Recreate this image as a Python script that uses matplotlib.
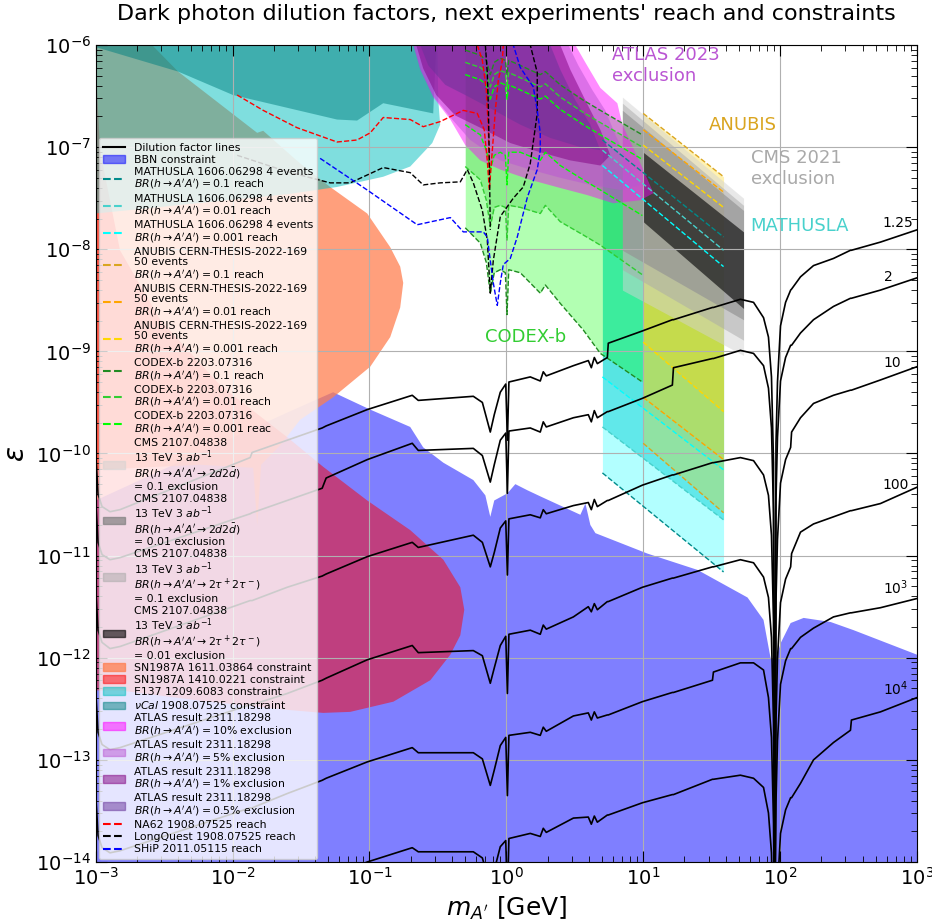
import matplotlib.pyplot as plt
import numpy as np
from matplotlib.lines import Line2D
from matplotlib.patches import Patch

# All curves are stored as log10(m / GeV) and log10(epsilon)

# ---- dilution factor lines, common mass grid ----
dil_logm = [-3.0, -2.982, -2.953, -2.895, -2.822, -1.871, -1.857, -1.601, -1.345, -1.316,
            -1.016, -0.687, -0.643, -0.241, -0.175, -0.117, -0.088, -0.044, -0.004, 0.008,
            0.019, 0.175, 0.248, 0.270, 0.292, 0.490, 0.599, 0.621, 0.643, 0.665,
            0.738, 0.745, 0.994, 1.213, 1.221, 1.506, 1.513, 1.710, 1.806, 1.879,
            1.915, 1.937, 1.952, 1.960, 1.970, 1.981, 2.003, 2.040,
            2.077, 2.084, 2.149, 2.244, 2.390, 2.514, 2.521, 2.733, 3.0]
dil_1p25 = [-9.99, -10.40, -10.52, -10.57, -10.55, -10.04, -9.99, -9.87, -9.75, -9.73,
            -9.57, -9.43, -9.48, -9.44, -9.50, -9.79, -9.62, -9.40, -9.32, -9.87,
            -9.30, -9.25, -9.29, -9.20, -9.24, -9.14, -9.09, -9.16, -9.06, -9.12,
            -9.06, -8.92, -8.80, -8.69, -8.69, -8.57, -8.57, -8.49, -8.52, -8.67,
            -8.86, -9.25, -10.09, -15.0, -9.90, -9.30, -8.75, -8.52,
            -8.40, -8.39, -8.27, -8.16, -8.09, -8.01, -8.01, -7.93, -7.81]
dil_2 = [-10.46, -10.87, -10.99, -11.04, -11.02, -10.59, -10.58, -10.46, -10.34, -10.24,
         -10.06, -9.90, -9.97, -9.95, -10.02, -10.28, -10.11, -9.87, -9.80, -10.39,
         -9.78, -9.75, -9.79, -9.69, -9.74, -9.65, -9.62, -9.69, -9.58, -9.65,
         -9.59, -9.59, -9.46, -9.33, -9.16, -9.07, -9.07, -8.99, -9.02, -9.14,
         -9.36, -9.75, -10.59, -15.0, -10.44, -9.84, -9.29, -9.06,
         -8.94, -8.94, -8.82, -8.69, -8.56, -8.48, -8.48, -8.40, -8.28]
dil_10 = [-11.32, -11.73, -11.85, -11.91, -11.89, -11.44, -11.44, -11.31, -11.20, -11.18,
          -11.01, -10.87, -10.92, -10.80, -10.87, -11.11, -10.97, -10.73, -10.66, -11.19,
          -10.64, -10.60, -10.63, -10.55, -10.59, -10.51, -10.48, -10.55, -10.45, -10.52,
          -10.46, -10.46, -10.31, -10.21, -10.21, -10.09, -10.09, -10.04, -10.07, -10.21,
          -10.41, -10.80, -11.64, -15.0, -11.44, -10.84, -10.29, -10.06,
          -9.94, -9.79, -9.65, -9.51, -9.43, -9.38, -9.38, -9.28, -9.15]
dil_100 = [-12.32, -12.73, -12.85, -12.90, -12.88, -12.46, -12.46, -12.35, -12.22, -12.20,
           -12.02, -11.88, -11.95, -11.93, -11.98, -12.25, -12.10, -11.88, -11.79, -12.35,
           -11.77, -11.73, -11.77, -11.68, -11.72, -11.60, -11.50, -11.55, -11.47, -11.53,
           -11.45, -11.45, -11.31, -11.22, -11.22, -11.11, -11.11, -11.04, -11.07, -11.21,
           -11.41, -11.80, -12.64, -15.0, -12.61, -12.01, -11.46, -11.23,
           -11.11, -10.98, -10.77, -10.69, -10.62, -10.56, -10.56, -10.49, -10.33]
dil_1e3 = [-13.33, -13.74, -13.86, -13.91, -13.89, -13.47, -13.47, -13.33, -13.20, -13.18,
           -13.02, -12.88, -12.93, -12.93, -12.99, -13.25, -13.10, -12.86, -12.78, -13.35,
           -12.76, -12.73, -12.76, -12.68, -12.72, -12.57, -12.54, -12.61, -12.53, -12.59,
           -12.56, -12.56, -12.43, -12.34, -12.34, -12.22, -12.14, -12.05, -12.05, -12.12,
           -12.39, -12.78, -13.62, -15.0, -13.41, -12.81, -12.26, -12.03,
           -11.91, -11.91, -11.80, -11.71, -11.60, -11.56, -11.56, -11.51, -11.42]
dil_1e4 = [-14.31, -14.72, -14.84, -14.89, -14.87, -14.42, -14.42, -14.31, -14.18, -14.16,
           -14.00, -13.86, -13.90, -13.90, -13.96, -14.23, -14.08, -13.85, -13.79, -14.37,
           -13.77, -13.72, -13.75, -13.67, -13.71, -13.57, -13.56, -13.63, -13.55, -13.61,
           -13.54, -13.54, -13.42, -13.34, -13.34, -13.19, -13.19, -13.15, -13.18, -13.27,
           -13.52, -13.91, -14.75, -15.0, -14.87, -14.27, -13.72, -13.49,
           -13.37, -13.37, -13.23, -13.00, -12.83, -12.71, -12.61, -12.53, -12.39]
dil_lines = [dil_1p25, dil_2, dil_10, dil_100, dil_1e3, dil_1e4]
dil_names = ["1.25", "2", "10", "100", "$10^3$", "$10^4$"]

# ---- constraints (closed contours) ----
bbn_logm = [-3.0, -1.601, -1.265, -0.994, -0.702, -0.607, -0.460, -0.241, -0.153, -0.117,
            -0.088, 0.008, 0.066, 0.154, 0.249, 0.395, 0.541, 0.578, 0.614, 0.651,
            1.031, 1.397, 1.762, 1.879, 1.930, 1.967, 2.003, 2.077, 2.172, 2.369,
            2.537, 3.0, 3.0, -3.0]
bbn_logeps = [-10.46, -9.60, -9.40, -9.57, -9.74, -9.94, -10.09, -10.26, -10.41, -10.62,
              -10.46, -10.39, -10.30, -10.36, -10.42, -10.51, -10.60, -10.49, -10.70, -10.78,
              -10.98, -11.14, -11.41, -11.63, -12.00, -12.02, -11.86, -11.66, -11.61, -11.65,
              -11.73, -11.97, -15.0, -15.0]

sn16_logm = [-3.0, -2.588, -2.398, -1.820, -1.776, -1.506, -1.287, -1.016, -0.848, -0.775,
             -0.753, -0.775, -0.848, -0.994, -1.265, -1.506, -1.652, -1.791, -1.820, -1.849,
             -2.237, -3.0]
sn16_logeps = [-6.0, -6.0, -6.26, -6.86, -6.84, -7.16, -7.39, -7.65, -7.98, -8.17,
               -8.33, -8.57, -8.86, -9.15, -9.45, -9.67, -9.92, -10.11, -10.70, -10.14,
               -10.11, -10.16]

sn14_logm = [-3.0, -2.968, -2.822, -2.529, -2.091, -1.601, -1.338, -1.016, -0.702, -0.460,
             -0.336, -0.307, -0.336, -0.409, -0.555, -0.825, -1.140, -1.338, -1.601, -2.237,
             -2.822, -3.0]
sn14_logeps = [-6.15, -7.03, -8.01, -8.69, -9.33, -9.84, -10.13, -10.46, -10.75, -11.04,
               -11.31, -11.53, -11.78, -11.97, -12.22, -12.43, -12.53, -12.54, -12.51, -12.42,
               -12.32, -12.32]

e137_logm = [-3.0, -0.504, -0.497, -0.483, -0.541, -0.702, -0.899, -1.236, -1.594, -3.0]
e137_logeps = [-6.0, -6.0, -6.54, -6.78, -6.96, -7.19, -7.29, -7.39, -7.46, -7.65]

nucal_logm = [-3.0, -3.0, -2.398, -1.996, -1.236, -1.090, -0.899, -0.534, -0.512]
nucal_logeps = [-6.0, -6.02, -6.26, -6.49, -6.73, -6.74, -6.57, -6.67, -6.0]

# ATLAS 2311.18298 exclusions for BR = 10%, 5%, 1%, 0.5%
atlas10_logm = [-0.680, 0.504, 0.577, 0.687, 0.811, 0.848, 0.980, 1.075, 0.980, 0.782,
                0.592, 0.394, 0.175, -0.044, -0.190, -0.300, -0.409, -0.534, -0.629]
atlas10_logeps = [-6.0, -6.0, -6.17, -6.42, -6.57, -6.78, -7.16, -7.45, -7.52, -7.55,
                  -7.47, -7.40, -7.32, -7.22, -7.13, -6.98, -6.73, -6.51, -6.24]
atlas5_logm = [-0.673, 0.453, 0.526, 0.628, 0.723, 0.797, 0.892, 0.980, 0.833, 0.614,
               0.394, 0.175, -0.044, -0.264, -0.395, -0.526, -0.621]
atlas5_logeps = [-6.0, -6.0, -6.20, -6.44, -6.64, -6.88, -7.15, -7.37, -7.42, -7.37,
                 -7.30, -7.22, -7.13, -6.93, -6.73, -6.51, -6.24]
atlas1_logm = [-0.658, 0.394, 0.467, 0.577, 0.687, 0.760, 0.687, 0.467, 0.248, 0.029,
               -0.190, -0.373, -0.512, -0.607]
atlas1_logeps = [-6.0, -6.0, -6.24, -6.54, -6.83, -7.08, -7.18, -7.13, -7.05, -6.96,
                 -6.81, -6.69, -6.49, -6.23]
atlas05_logm = [-0.629, 0.321, 0.394, 0.504, 0.614, 0.687, 0.541, 0.321, 0.102, -0.117,
                -0.300, -0.446, -0.570]
atlas05_logeps = [-6.0, -6.0, -6.24, -6.54, -6.78, -7.03, -7.00, -6.91, -6.78, -6.62,
                  -6.49, -6.39, -6.20]

# ---- CODEX-b reach bands (upper / lower edges) ----
codex_logm = [-0.300, -0.190, -0.146, -0.117, -0.088, -0.044, -0.007, 0.005, 0.018, 0.102,
              0.248, 0.285, 0.394, 0.562, 0.687, 0.994]
codex_hi_01 = [-6.05, -6.10, -6.15, -6.29, -6.17, -6.13, -6.15, -6.29, -6.15, -6.20,
               -6.29, -6.26, -6.39, -6.54, -6.64, -6.88]
codex_lo_01 = [-7.79, -7.94, -8.13, -8.43, -8.23, -8.20, -8.23, -8.64, -8.20, -8.23,
               -8.43, -8.35, -8.53, -8.79, -9.02, -9.30]
codex_hi_001 = [-6.17, -6.22, -6.27, -6.41, -6.29, -6.25, -6.27, -6.41, -6.27, -6.32,
                -6.41, -6.38, -6.51, -6.66, -6.76, -7.00]
codex_lo_001 = [-7.19, -7.32, -7.52, -7.78, -7.59, -7.57, -7.59, -7.91, -7.57, -7.59,
                -7.65, -7.57, -7.73, -7.86, -7.96, -8.25]
codex_hi_0001 = [-6.29, -6.34, -6.39, -6.53, -6.41, -6.37, -6.39, -6.53, -6.39, -6.44,
                 -6.53, -6.50, -6.63, -6.78, -6.88, -7.12]
codex_lo_0001 = [-6.78, -6.88, -7.03, -7.22, -7.08, -7.05, -7.08, -7.37, -7.05, -7.05,
                 -7.13, -7.05, -7.18, -7.32, -7.42, -7.67]

# ---- MATHUSLA, ANUBIS, CMS: straight bands between two masses ----
mathusla_logm = [0.702, 1.587]
mathusla_hi = [[-6.93, -7.88], [-7.03, -8.01], [-7.18, -8.17]]
mathusla_lo = [[-10.19, -11.16], [-9.74, -10.65], [-9.25, -10.16]]

anubis_logm = [1.0, 1.587]
anubis_hi = [[-6.67, -7.29], [-6.83, -7.44], [-6.98, -7.59]]
anubis_lo = [[-9.90, -10.58], [-9.45, -10.06], [-8.91, -9.59]]

# 2d2dbar 0.1, 2d2dbar 0.01, 2tau2tau 0.1, 2tau2tau 0.01
cms_logm = [[0.848, 1.733], [0.848, 1.733], [0.848, 1.733], [1.0, 1.733]]
cms_hi = [[-6.51, -7.50], [-6.64, -7.62], [-6.57, -7.57], [-7.05, -7.83]]
cms_lo = [[-8.40, -9.04], [-8.01, -8.69], [-8.20, -8.89], [-7.73, -8.58]]

# ---- beam dump reach curves ----
na62_logm = [-1.966, -1.776, -1.528, -1.236, -1.090, -0.994, -0.899, -0.702, -0.607, -0.483,
             -0.314, -0.212, -0.161, -0.139, -0.124, -0.102, -0.080, -0.058, -0.044, -0.029,
             -0.022]
na62_logeps = [-6.49, -6.64, -6.81, -6.95, -6.93, -6.86, -6.71, -6.73, -6.80, -6.75,
               -6.64, -6.67, -6.83, -7.13, -7.42, -7.03, -6.64, -6.34, -6.26, -6.15,
               -6.0]
na62_top_logm = [-0.212, -0.175, -0.146, -0.131, -0.124]
na62_top_logeps = [-6.0, -6.15, -6.44, -6.83, -7.27]
longquest_logm = [-1.966, -1.601, -1.287, -1.140, -0.899, -0.702, -0.607, -0.483, -0.336, -0.285,
                  -0.241, -0.175, -0.139, -0.117, -0.095, -0.044, 0.051, 0.124, 0.175, 0.226,
                  0.226, 0.175]
longquest_logeps = [-7.08, -7.24, -7.35, -7.35, -7.20, -7.25, -7.37, -7.35, -7.34, -7.22,
                    -7.35, -7.62, -7.91, -8.43, -8.11, -7.68, -7.50, -7.39, -7.16, -6.67,
                    -6.27, -6.0]
longquest_top_logm = [-0.153, -0.139, -0.131, -0.124, -0.117]
longquest_top_logeps = [-6.0, -6.27, -6.61, -7.13, -7.81]
ship_logm = [-1.360, -1.016, -0.651, -0.409, -0.314, -0.168, -0.139, -0.117, -0.095, -0.066,
             -0.044, -0.022, 0.029, 0.080, 0.154, 0.226, 0.248, 0.248, 0.226, 0.197,
             0.102, 0.051]
ship_logeps = [-7.11, -7.42, -7.76, -7.69, -7.83, -7.83, -7.88, -8.11, -8.33, -8.55,
               -8.33, -8.15, -8.09, -7.88, -7.49, -7.22, -7.03, -6.86, -6.64, -6.41,
               -6.22, -6.0]


def pw(v):
    return 10.0 ** np.asarray(v, dtype=float)


fig = plt.figure(figsize=(9.32, 9.24), dpi=100)
ax = fig.add_axes([0.1026, 0.0671, 0.8813, 0.8842])
ax.set_xscale('log')
ax.set_yscale('log')

# constraints
ax.fill(pw(bbn_logm), pw(bbn_logeps), color='blue', alpha=0.5, lw=0)
ax.fill(pw(sn16_logm), pw(sn16_logeps), color='coral', alpha=0.75, lw=0)
ax.fill(pw(sn14_logm), pw(sn14_logeps), color='red', alpha=0.5, lw=0)
ax.fill(pw(e137_logm), pw(e137_logeps), color='c', alpha=0.5, lw=0)
ax.fill(pw(nucal_logm), pw(nucal_logeps), color='teal', alpha=0.5, lw=0)

# MATHUSLA
mat_colors = ['darkcyan', 'mediumturquoise', 'cyan']
mat_fill = [('cyan', 0.3), ('darkturquoise', 0.45), ('turquoise', 0.3)]
mm = pw(mathusla_logm)
for (fc, fa), hi, lo in zip(mat_fill, mathusla_hi, mathusla_lo):
    ax.fill_between(mm, pw(lo), pw(hi), color=fc, alpha=fa, lw=0)

# CODEX-b
codex_colors = ['forestgreen', 'limegreen', 'lime']
codex_fill = ['lime', 'limegreen', 'limegreen']
codex_edges = [(codex_hi_01, codex_lo_01), (codex_hi_001, codex_lo_001),
               (codex_hi_0001, codex_lo_0001)]
cm = pw(codex_logm)
for fc, (hi, lo) in zip(codex_fill, codex_edges):
    ax.fill_between(cm, pw(lo), pw(hi), color=fc, alpha=0.3, lw=0)

# ANUBIS
anu_colors = ['goldenrod', 'orange', 'gold']
am = pw(anubis_logm)
for hi, lo in zip(anubis_hi, anubis_lo):
    ax.fill_between(am, pw(lo), pw(hi), color='gold', alpha=0.3, lw=0)

# CMS
cms_colors = [('lightgray', 0.5), ('gray', 0.7), ('darkgray', 0.5), ('black', 0.6)]
for (col, a), xs, hi, lo in zip(cms_colors, cms_logm, cms_hi, cms_lo):
    ax.fill_between(pw(xs), pw(lo), pw(hi), color=col, alpha=a, lw=0)

# ATLAS
atlas = [(atlas10_logm, atlas10_logeps, 'magenta', 0.45),
         (atlas5_logm, atlas5_logeps, 'mediumorchid', 0.5),
         (atlas1_logm, atlas1_logeps, 'purple', 0.5),
         (atlas05_logm, atlas05_logeps, 'rebeccapurple', 0.5)]
for xs, ys, col, a in atlas:
    ax.fill(pw(xs), pw(ys), color=col, alpha=a, lw=0)

# reach lines of the future experiments
for col, (hi, lo) in zip(codex_colors, codex_edges):
    ax.plot(cm, pw(hi), '--', color=col, lw=1)
    ax.plot(cm, pw(lo), '--', color=col, lw=1)
for col, hi, lo in zip(mat_colors, mathusla_hi, mathusla_lo):
    ax.plot(mm, pw(hi), '--', color=col, lw=1)
    ax.plot(mm, pw(lo), '--', color=col, lw=1)
for col, hi, lo in zip(anu_colors, anubis_hi, anubis_lo):
    ax.plot(am, pw(hi), '--', color=col, lw=1)
    ax.plot(am, pw(lo), '--', color=col, lw=1)

# beam dump reach
ax.plot(pw(na62_logm), pw(na62_logeps), '--', color='red', lw=1)
ax.plot(pw(na62_top_logm), pw(na62_top_logeps), '--', color='red', lw=1)
ax.plot(pw(longquest_logm), pw(longquest_logeps), '--', color='black', lw=1)
ax.plot(pw(longquest_top_logm), pw(longquest_top_logeps), '--', color='black', lw=1)
ax.plot(pw(ship_logm), pw(ship_logeps), '--', color='blue', lw=1)

# dilution factor lines
dm = pw(dil_logm)
for ys in dil_lines:
    ax.plot(dm, pw(ys), color='black', lw=1.2)
label_m = [720, 620, 665, 700, 700, 700]
label_eps = [1.8e-8, 5.4e-9, 7.7e-10, 4.9e-11, 4.9e-12, 5.0e-13]
for name, xm, ye in zip(dil_names, label_m, label_eps):
    ax.text(xm, ye, name, fontsize=10, ha='center', va='center')

# experiment names
ax.text(5.96, 9.7e-7, "ATLAS 2023\nexclusion", color='mediumorchid', fontsize=13,
        va='top', ha='left')
ax.text(30.0, 1.65e-7, "ANUBIS", color='goldenrod', fontsize=13, va='center')
ax.text(61.0, 9.6e-8, "CMS 2021\nexclusion", color='darkgray', fontsize=13,
        va='top', ha='left')
ax.text(61.0, 1.7e-8, "MATHUSLA", color='mediumturquoise', fontsize=13, va='center')
ax.text(0.70, 1.38e-9, "CODEX-b", color='limegreen', fontsize=13, va='center')

ax.set_xlim(1e-3, 1e3)
ax.set_ylim(1e-14, 1e-6)
ax.grid(True, which='major', color='#b0b0b0', lw=0.8)
ax.tick_params(which='both', direction='in', top=True, right=True, labelsize=14)
ax.tick_params(which='major', length=8)
ax.tick_params(which='minor', length=4)
ax.set_xlabel("$m_{A'}$ [GeV]", fontsize=18)
ax.set_ylabel(r"$\epsilon$", fontsize=20)
ax.set_title("Dark photon dilution factors, next experiments' reach and constraints",
             fontsize=16, pad=18)

br = r"$BR(h \rightarrow A'A')"
handles = [
    (Line2D([], [], color='black'), "Dilution factor lines"),
    (Patch(color='blue', alpha=0.5), "BBN constraint"),
    (Line2D([], [], color='darkcyan', ls='--'), "MATHUSLA 1606.06298 4 events\n" + br + r" = 0.1$ reach"),
    (Line2D([], [], color='mediumturquoise', ls='--'), "MATHUSLA 1606.06298 4 events\n" + br + r" = 0.01$ reach"),
    (Line2D([], [], color='cyan', ls='--'), "MATHUSLA 1606.06298 4 events\n" + br + r" = 0.001$ reach"),
    (Line2D([], [], color='goldenrod', ls='--'), "ANUBIS CERN-THESIS-2022-169\n50 events\n" + br + r" = 0.1$ reach"),
    (Line2D([], [], color='orange', ls='--'), "ANUBIS CERN-THESIS-2022-169\n50 events\n" + br + r" = 0.01$ reach"),
    (Line2D([], [], color='gold', ls='--'), "ANUBIS CERN-THESIS-2022-169\n50 events\n" + br + r" = 0.001$ reach"),
    (Line2D([], [], color='forestgreen', ls='--'), "CODEX-b 2203.07316\n" + br + r" = 0.1$ reach"),
    (Line2D([], [], color='limegreen', ls='--'), "CODEX-b 2203.07316\n" + br + r" = 0.01$ reach"),
    (Line2D([], [], color='lime', ls='--'), "CODEX-b 2203.07316\n" + br + r" = 0.001$ reac"),
    (Patch(color='lightgray', alpha=0.5), "CMS 2107.04838\n13 TeV 3 $ab^{-1}$\n"
     r"$BR(h \rightarrow A'A' \rightarrow 2d2\bar{d})$" "\n= 0.1 exclusion"),
    (Patch(color='gray', alpha=0.7), "CMS 2107.04838\n13 TeV 3 $ab^{-1}$\n"
     r"$BR(h \rightarrow A'A' \rightarrow 2d2\bar{d})$" "\n= 0.01 exclusion"),
    (Patch(color='darkgray', alpha=0.5), "CMS 2107.04838\n13 TeV 3 $ab^{-1}$\n"
     r"$BR(h \rightarrow A'A' \rightarrow 2\tau^+2\tau^-)$" "\n= 0.1 exclusion"),
    (Patch(color='black', alpha=0.6), "CMS 2107.04838\n13 TeV 3 $ab^{-1}$\n"
     r"$BR(h \rightarrow A'A' \rightarrow 2\tau^+2\tau^-)$" "\n= 0.01 exclusion"),
    (Patch(color='coral', alpha=0.75), "SN1987A 1611.03864 constraint"),
    (Patch(color='red', alpha=0.5), "SN1987A 1410.0221 constraint"),
    (Patch(color='c', alpha=0.5), "E137 1209.6083 constraint"),
    (Patch(color='teal', alpha=0.5), r"$\nu Cal$ 1908.07525 constraint"),
    (Patch(color='magenta', alpha=0.5), "ATLAS result 2311.18298\n" + br + r" = 10\%$ exclusion"),
    (Patch(color='mediumorchid', alpha=0.5), "ATLAS result 2311.18298\n" + br + r" = 5\%$ exclusion"),
    (Patch(color='purple', alpha=0.5), "ATLAS result 2311.18298\n" + br + r" = 1\%$ exclusion"),
    (Patch(color='rebeccapurple', alpha=0.5), "ATLAS result 2311.18298\n" + br + r" = 0.5\%$ exclusion"),
    (Line2D([], [], color='red', ls='--'), "NA62 1908.07525 reach"),
    (Line2D([], [], color='black', ls='--'), "LongQuest 1908.07525 reach"),
    (Line2D([], [], color='blue', ls='--'), "SHiP 2011.05115 reach"),
]
leg = ax.legend([h for h, _ in handles], [l for _, l in handles], loc='lower left',
                fontsize=7.8, labelspacing=0.2, framealpha=0.8, borderaxespad=0.3)
for t in leg.get_texts():
    t.set_linespacing(1.05)

fig.savefig("out.png", dpi=100)
